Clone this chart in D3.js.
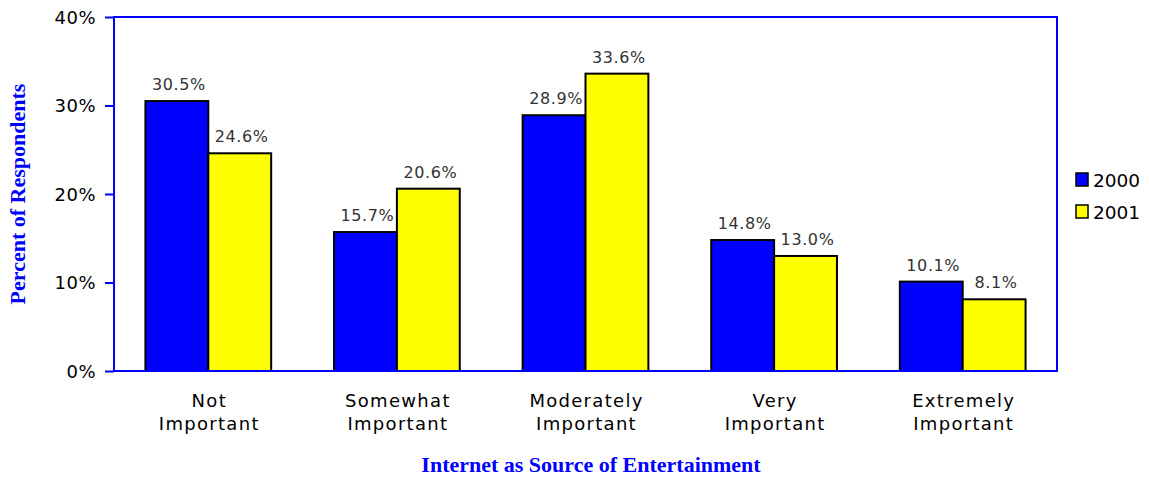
<!DOCTYPE html>
<html>
<head>
<meta charset="utf-8">
<script src="https://cdn.jsdelivr.net/npm/d3@7"></script>
<style>
  body { margin: 0; background: #fff; }
  svg { display: block; }
</style>
</head>
<body>
<div id="chart"></div>
<script>
var categories = [["Not", "Important"], ["Somewhat", "Important"], ["Moderately", "Important"], ["Very", "Important"], ["Extremely", "Important"]];
var seriesNames = ["2000", "2001"];
var values2000 = [30.5, 15.7, 28.9, 14.8, 10.1];
var values2001 = [24.6, 20.6, 33.6, 13.0, 8.1];
var yTicks = [0, 10, 20, 30, 40];
var colours = ["#0000ff", "#ffff00"];

var width = 1149, height = 479;
var plot = { left: 114, right: 1057, top: 17, bottom: 371 };
var sans = "'DejaVu Sans', Verdana, sans-serif";
var serif = "'Liberation Serif', 'Times New Roman', serif";

var svg = d3.select("#chart").append("svg")
  .attr("width", width)
  .attr("height", height);

var catKeys = categories.map(function (c) { return c.join(" "); });
var x0 = d3.scaleBand().domain(catKeys).range([plot.left, plot.right]).padding(0);
var x1 = d3.scaleBand().domain(seriesNames).range([0, x0.bandwidth()])
  .paddingInner(0).paddingOuter(0.5);
var y = d3.scaleLinear().domain([0, 40]).range([plot.bottom, plot.top]);

// y axis ticks + labels
var yAxis = d3.axisLeft(y).tickValues(yTicks).tickSize(9).tickPadding(9)
  .tickFormat(function (d) { return d + "%"; });
var gy = svg.append("g").attr("transform", "translate(" + plot.left + ",0)").call(yAxis);
gy.select(".domain").remove();
gy.selectAll(".tick line").attr("stroke", "#0000ff").attr("stroke-width", 2);
gy.selectAll(".tick text")
  .attr("fill", "#000")
  .attr("dy", "0.36em")
  .style("font-family", sans)
  .style("font-size", "18px")
  .style("letter-spacing", "0.5px");

// bars
var data = catKeys.map(function (k, i) {
  return { key: k, vals: [values2000[i], values2001[i]] };
});
var groups = svg.append("g").selectAll("g").data(data).enter().append("g")
  .attr("transform", function (d) { return "translate(" + x0(d.key) + ",0)"; });

groups.selectAll("rect").data(function (d) {
  return d.vals.map(function (v, j) { return { s: seriesNames[j], v: v, j: j }; });
}).enter().append("rect")
  .attr("x", function (d) { return x1(d.s); })
  .attr("y", function (d) { return y(d.v); })
  .attr("width", x1.bandwidth())
  .attr("height", function (d) { return y(0) - y(d.v); })
  .attr("fill", function (d) { return colours[d.j]; })
  .attr("stroke", "#000")
  .attr("stroke-width", 2);

groups.selectAll("text.val").data(function (d) {
  return d.vals.map(function (v, j) { return { s: seriesNames[j], v: v }; });
}).enter().append("text")
  .attr("class", "val")
  .attr("x", function (d) { return x1(d.s) + x1.bandwidth() / 2 + 2; })
  .attr("y", function (d) { return y(d.v) - 11; })
  .attr("text-anchor", "middle")
  .attr("fill", "#333")
  .style("font-family", sans)
  .style("font-size", "16px")
  .style("letter-spacing", "0.6px")
  .text(function (d) { return d.v.toFixed(1) + "%"; });

// plot frame
svg.append("rect")
  .attr("x", plot.left).attr("y", plot.top)
  .attr("width", plot.right - plot.left).attr("height", plot.bottom - plot.top)
  .attr("fill", "none").attr("stroke", "#0000ff").attr("stroke-width", 2);

// category labels
var catLabels = svg.append("g").selectAll("text").data(categories).enter().append("text")
  .attr("text-anchor", "middle")
  .attr("fill", "#000")
  .style("font-family", sans)
  .style("font-size", "18px")
  .style("letter-spacing", "1.3px")
  .attr("transform", function (d, i) {
    return "translate(" + (x0(catKeys[i]) + x0.bandwidth() / 2 + 1) + ",407)";
  });
catLabels.selectAll("tspan").data(function (d) { return d; }).enter().append("tspan")
  .attr("x", 0)
  .attr("dy", function (d, i) { return i === 0 ? 0 : 23; })
  .text(function (d) { return d; });

// axis titles
svg.append("text")
  .attr("x", 591).attr("y", 472)
  .attr("text-anchor", "middle")
  .attr("fill", "#0000ff")
  .style("font-family", serif)
  .style("font-weight", "bold")
  .style("font-size", "22px")
  .text("Internet as Source of Entertainment");

svg.append("text")
  .attr("transform", "translate(25," + ((plot.top + plot.bottom) / 2) + ") rotate(-90)")
  .attr("text-anchor", "middle")
  .attr("fill", "#0000ff")
  .style("font-family", serif)
  .style("font-weight", "bold")
  .style("font-size", "22px")
  .text("Percent of Respondents");

// legend
var legend = svg.append("g").attr("transform", "translate(1076,173)");
var items = legend.selectAll("g").data(seriesNames).enter().append("g")
  .attr("transform", function (d, i) { return "translate(0," + (i * 32) + ")"; });
items.append("rect")
  .attr("width", 12).attr("height", 13)
  .attr("fill", function (d, i) { return colours[i]; })
  .attr("stroke", "#000").attr("stroke-width", 1.5);
items.append("text")
  .attr("x", 17).attr("y", 13.5)
  .attr("fill", "#000")
  .style("font-family", sans)
  .style("font-size", "18.5px")
  .text(function (d) { return d; });
</script>
</body>
</html>
